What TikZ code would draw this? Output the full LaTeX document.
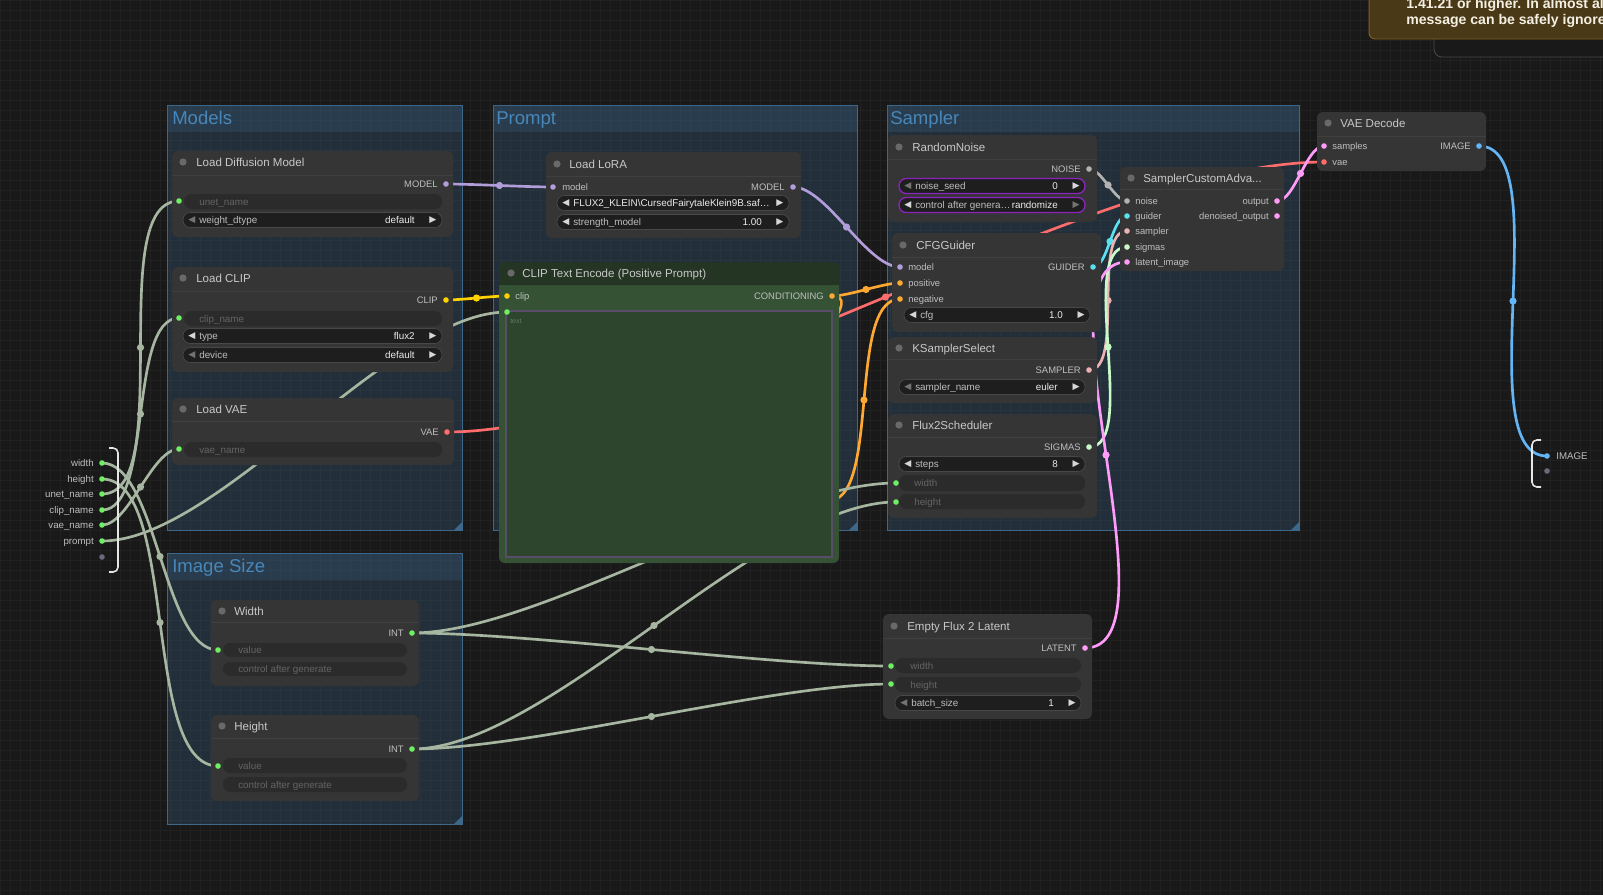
\documentclass[tikz,border=0pt]{standalone}
\usepackage{fontspec}
\setmainfont{Liberation Sans}
\newfontfamily\symf{DejaVu Sans}
\usetikzlibrary{fit}

\definecolor{bgc}{RGB}{25,25,25}
\definecolor{gridc}{RGB}{33,33,33}
\definecolor{grpfill}{RGB}{58,100,135}
\definecolor{grpline}{RGB}{62,104,138}
\definecolor{grptext}{RGB}{72,135,185}
\definecolor{nodebg}{RGB}{53,53,53}
\definecolor{sepc}{RGB}{64,64,64}
\definecolor{tdotc}{RGB}{105,105,105}
\definecolor{titletxt}{RGB}{200,200,200}
\definecolor{slottxt}{RGB}{190,190,190}
\definecolor{wgtbg}{RGB}{30,30,30}
\definecolor{wgtline}{RGB}{72,72,72}
\definecolor{wgtoffbg}{RGB}{43,43,43}
\definecolor{wlabc}{RGB}{190,190,190}
\definecolor{wvalc}{RGB}{235,235,235}
\definecolor{woffc}{RGB}{100,100,100}
\definecolor{arrlo}{RGB}{115,115,115}
\definecolor{arrhi}{RGB}{215,215,215}
\definecolor{seedline}{RGB}{140,35,190}
\definecolor{ctetitle}{RGB}{36,53,36}
\definecolor{ctebody}{RGB}{53,82,53}
\definecolor{ctetext}{RGB}{45,68,45}
\definecolor{ctetextline}{RGB}{88,78,106}
\definecolor{ctehint}{RGB}{105,120,105}
\definecolor{modelc}{RGB}{178,157,219}
\definecolor{clipc}{RGB}{255,210,0}
\definecolor{vaec}{RGB}{255,108,108}
\definecolor{condc}{RGB}{255,168,50}
\definecolor{noisec}{RGB}{178,178,178}
\definecolor{guiderc}{RGB}{90,225,240}
\definecolor{samplerc}{RGB}{236,178,178}
\definecolor{sigmasc}{RGB}{200,250,200}
\definecolor{latentc}{RGB}{255,156,249}
\definecolor{imagec}{RGB}{100,181,246}
\definecolor{intc}{RGB}{166,182,160}
\definecolor{intdot}{RGB}{110,240,100}
\definecolor{emptydot}{RGB}{105,105,125}
\definecolor{brkc}{RGB}{230,230,230}
\definecolor{toastbg}{RGB}{74,57,22}
\definecolor{toastline}{RGB}{125,96,36}
\definecolor{toasttxt}{RGB}{245,240,228}
\definecolor{backbox}{RGB}{72,72,72}

\pgfdeclarelayer{groups}
\pgfdeclarelayer{links}
\pgfsetlayers{groups,links,main}

\begin{document}
\begin{tikzpicture}[x=0.025cm, y=-0.025cm]
    \tikzstyle{grp} = [draw=grpline, line width=0.6pt, fill=grpfill, fill opacity=0.3, inner sep=0pt]
    \tikzstyle{grphead} = [fill=grpfill, fill opacity=0.25]
    \tikzstyle{grptitle} = [text=grptext, font=\fontsize{13.2}{15}\selectfont, anchor=mid west, inner sep=0pt]
    \tikzstyle{grpcorner} = [fill=grpline]
    \tikzstyle{cnode} = [fill=nodebg, rounded corners=0.15cm, inner sep=0pt]
    \tikzstyle{sepline} = [draw=sepc, line width=0.5pt]
    \tikzstyle{tdot} = [circle, fill=tdotc, minimum size=0.18cm, inner sep=0pt]
    \tikzstyle{ntitle} = [text=titletxt, font=\fontsize{8.2}{10}\selectfont, anchor=mid west, inner sep=0pt]
    \tikzstyle{slot} = [circle, minimum size=0.14cm, inner sep=0pt]
    \tikzstyle{lblin} = [text=slottxt, font=\fontsize{6.7}{8}\selectfont, anchor=mid west, inner sep=0pt]
    \tikzstyle{lblout} = [text=slottxt, font=\fontsize{6.7}{8}\selectfont, anchor=mid east, inner sep=0pt]
    \tikzstyle{wgt} = [fill=wgtbg, draw=wgtline, line width=0.5pt, rounded corners=0.18cm, inner sep=0pt]
    \tikzstyle{wgtoff} = [fill=wgtoffbg, rounded corners=0.18cm, inner sep=0pt]
    \tikzstyle{wlab} = [text=wlabc, font=\fontsize{7}{8}\selectfont, anchor=mid west, inner sep=0pt]
    \tikzstyle{wval} = [text=wvalc, font=\fontsize{7}{8}\selectfont, anchor=mid east, inner sep=0pt]
    \tikzstyle{woff} = [text=woffc, font=\fontsize{7}{8}\selectfont, anchor=mid west, inner sep=0pt]
    \tikzstyle{warr} = [font=\symf\fontsize{6.5}{7}\selectfont, inner sep=0pt]
    \tikzstyle{link} = [line width=1.9pt, out=0, in=180, looseness=0.6386]
    \tikzstyle{middot} = [circle, minimum size=0.18cm, inner sep=0pt]
    \tikzstyle{sglbl} = [text=slottxt, font=\fontsize{6.9}{8}\selectfont, anchor=mid east, inner sep=0pt]
    \tikzstyle{brk} = [draw=brkc, line width=1.1pt, rounded corners=0.12cm]
    \tikzstyle{toasttext} = [text=toasttxt, font=\bfseries\fontsize{10}{12}\selectfont, anchor=mid west, inner sep=0pt]

    \useasboundingbox (0,0) rectangle (1603,895);

    \begin{pgfonlayer}{groups}
    \fill [bgc] (0,0) rectangle (1603,895);
    \draw [gridc, line width=0.4pt] (0,0) grid [step=0.25cm] (1603,895);

    \node (gmodels) [grp, fit={(167,105) (462,530)}] {};
    \fill [grphead] (167,105) rectangle (462,132);
    \node (gmodels-t) [grptitle] at (172,121) {Models};
    \fill [grpcorner] (462,530) -- (454,530) -- (462,522) -- cycle;

    \node (gprompt) [grp, fit={(493,105) (857,530)}] {};
    \fill [grphead] (493,105) rectangle (857,132);
    \node (gprompt-t) [grptitle] at (496,121) {Prompt};
    \fill [grpcorner] (857,530) -- (849,530) -- (857,522) -- cycle;

    \node (gsampler) [grp, fit={(887,105) (1299,530)}] {};
    \fill [grphead] (887,105) rectangle (1299,132);
    \node (gsampler-t) [grptitle] at (890,121) {Sampler};
    \fill [grpcorner] (1299,530) -- (1291,530) -- (1299,522) -- cycle;

    \node (gsize) [grp, fit={(167,553) (462,824)}] {};
    \fill [grphead] (167,553) rectangle (462,580);
    \node (gsize-t) [grptitle] at (172,569) {Image Size};
    \fill [grpcorner] (462,824) -- (454,824) -- (462,816) -- cycle;
    \end{pgfonlayer}

    \node (ldm) [cnode, fit={(172,151) (453,237)}] {};
    \draw [sepline] (172,175) -- (453,175);
    \node (ldm-c) [tdot] at (183,162) {};
    \node (ldm-t) [ntitle] at (196,163) {Load Diffusion Model};
    \node (ldmo) [slot, fill=modelc] at (446,184) {};
    \node (ldmo-l) [lblout] at (438,184) {MODEL};
    \node (ldmu) [slot, fill=intdot] at (179,201) {};

    \node (lclip) [cnode, fit={(172,267) (453,372)}] {};
    \draw [sepline] (172,291) -- (453,291);
    \node (lclip-c) [tdot] at (183,278) {};
    \node (lclip-t) [ntitle] at (196,279) {Load CLIP};
    \node (clipo) [slot, fill=clipc] at (446,300) {};
    \node (clipo-l) [lblout] at (438,300) {CLIP};
    \node (clipn) [slot, fill=intdot] at (179,318) {};

    \node (lvae) [cnode, fit={(172,398) (454,465)}] {};
    \draw [sepline] (172,421) -- (454,421);
    \node (lvae-c) [tdot] at (183,409) {};
    \node (lvae-t) [ntitle] at (196,410) {Load VAE};
    \node (vaeo) [slot, fill=vaec] at (447,432) {};
    \node (vaeo-l) [lblout] at (439,432) {VAE};
    \node (vaen) [slot, fill=intdot] at (179,449) {};

    \node (lora) [cnode, fit={(546,152) (801,238)}] {};
    \draw [sepline] (546,176) -- (801,176);
    \node (lora-c) [tdot] at (557,164) {};
    \node (lora-t) [ntitle] at (569,165) {Load LoRA};
    \node (lorai) [slot, fill=modelc] at (553,187) {};
    \node (lorai-l) [lblin] at (562,187) {model};
    \node (lorao) [slot, fill=modelc] at (793,187) {};
    \node (lorao-l) [lblout] at (785,187) {MODEL};
    \node (lora-w) [wgt, fit={(557,195.5) (789,210.5)}] {};
    \node (lora-wa) [warr, text=arrhi] at (566,203) {◀};
    \node (lora-wl) [wval, anchor=mid west] at (573,203) {FLUX2\_KLEIN\textbackslash CursedFairytaleKlein9B.saf…};
    \node (lora-wb) [warr, text=arrhi] at (780,203) {▶};

    \node (cte) [cnode, fill=ctebody, fit={(499,262) (839,563)}] {};
    \fill [ctetitle, rounded corners=0.15cm] (499,262) rectangle (839,285);
    \fill [ctetitle] (499,277) rectangle (839,285);
    \node (cte-c) [tdot] at (511,273) {};
    \node (cte-t) [ntitle] at (522,274) {CLIP Text Encode (Positive Prompt)};
    \node (ctec) [slot, fill=clipc] at (507,296) {};
    \node (ctec-l) [lblin] at (515,296) {clip};
    \node (cteo) [slot, fill=condc] at (832,296) {};
    \node (cteo-l) [lblout] at (824,296) {CONDITIONING};
    \node (cte-box) [fill=ctetext, draw=ctetextline, line width=0.8pt, inner sep=0pt, fit={(506,311) (832,557)}] {};
    \node (ctet) [slot, fill=intdot] at (507,312) {};
    \node (ctet-l) [text=ctehint, font=\fontsize{5}{6}\selectfont, anchor=mid west, inner sep=0pt] at (510,320) {text};

    \node (rn) [cnode, fit={(888,135) (1097,222)}] {};
    \draw [sepline] (888,159) -- (1097,159);
    \node (rn-c) [tdot] at (899,147) {};
    \node (rn-t) [ntitle] at (912,148) {RandomNoise};
    \node (rno) [slot, fill=noisec] at (1089,169) {};
    \node (rno-l) [lblout] at (1081,169) {NOISE};

    \node (cfg) [cnode, fit={(892,233) (1101,332)}] {};
    \draw [sepline] (892,257) -- (1101,257);
    \node (cfg-c) [tdot] at (903,245) {};
    \node (cfg-t) [ntitle] at (916,246) {CFGGuider};
    \node (cfgm) [slot, fill=modelc] at (900,267) {};
    \node (cfgm-l) [lblin] at (908,267) {model};
    \node (cfgp) [slot, fill=condc] at (900,283) {};
    \node (cfgp-l) [lblin] at (908,283) {positive};
    \node (cfgn) [slot, fill=condc] at (900,299) {};
    \node (cfgn-l) [lblin] at (908,299) {negative};
    \node (cfgo) [slot, fill=guiderc] at (1093,267) {};
    \node (cfgo-l) [lblout] at (1085,267) {GUIDER};

    \node (kss) [cnode, fit={(888,337) (1097,403)}] {};
    \draw [sepline] (888,359) -- (1097,359);
    \node (kss-c) [tdot] at (899,348) {};
    \node (kss-t) [ntitle] at (912,349) {KSamplerSelect};
    \node (ksso) [slot, fill=samplerc] at (1089,370) {};
    \node (ksso-l) [lblout] at (1081,370) {SAMPLER};

    \node (fs) [cnode, fit={(888,414) (1097,518)}] {};
    \draw [sepline] (888,437) -- (1097,437);
    \node (fs-c) [tdot] at (899,425) {};
    \node (fs-t) [ntitle] at (912,426) {Flux2Scheduler};
    \node (fso) [slot, fill=sigmasc] at (1089,447) {};
    \node (fso-l) [lblout] at (1081,447) {SIGMAS};
    \node (fsw) [slot, fill=intdot] at (896,483) {};
    \node (fsh) [slot, fill=intdot] at (896,502) {};

    \node (sca) [cnode, fit={(1120,167) (1284,271)}] {};
    \draw [sepline] (1120,189) -- (1284,189);
    \node (sca-c) [tdot] at (1131,178) {};
    \node (sca-t) [ntitle] at (1143,179) {SamplerCustomAdva...};
    \node (scan) [slot, fill=noisec] at (1127,201) {};
    \node (scan-l) [lblin] at (1135,201) {noise};
    \node (scag) [slot, fill=guiderc] at (1127,216) {};
    \node (scag-l) [lblin] at (1135,216) {guider};
    \node (scas) [slot, fill=samplerc] at (1127,231) {};
    \node (scas-l) [lblin] at (1135,231) {sampler};
    \node (scasg) [slot, fill=sigmasc] at (1127,247) {};
    \node (scasg-l) [lblin] at (1135,247) {sigmas};
    \node (scal) [slot, fill=latentc] at (1127,262) {};
    \node (scal-l) [lblin] at (1135,262) {latent\_image};
    \node (scao) [slot, fill=latentc] at (1277,201) {};
    \node (scao-l) [lblout] at (1269,201) {output};
    \node (scad) [slot, fill=latentc] at (1277,216) {};
    \node (scad-l) [lblout] at (1269,216) {denoised\_output};

    \node (vd) [cnode, fit={(1317,112) (1486,171)}] {};
    \draw [sepline] (1317,136) -- (1486,136);
    \node (vd-c) [tdot] at (1328,123) {};
    \node (vd-t) [ntitle] at (1340,124) {VAE Decode};
    \node (vds) [slot, fill=latentc] at (1324,146) {};
    \node (vds-l) [lblin] at (1332,146) {samples};
    \node (vdv) [slot, fill=vaec] at (1324,162) {};
    \node (vdv-l) [lblin] at (1332,162) {vae};
    \node (vdo) [slot, fill=imagec] at (1479,146) {};
    \node (vdo-l) [lblout] at (1471,146) {IMAGE};

    \node (wd) [cnode, fit={(211,600) (419,686)}] {};
    \draw [sepline] (211,622) -- (419,622);
    \node (wd-c) [tdot] at (222,611) {};
    \node (wd-t) [ntitle] at (234,612) {Width};
    \node (wdo) [slot, fill=intdot] at (412,633) {};
    \node (wdo-l) [lblout] at (404,633) {INT};
    \node (wdv) [slot, fill=intdot] at (218,650) {};

    \node (ht) [cnode, fit={(211,715) (419,801)}] {};
    \draw [sepline] (211,738) -- (419,738);
    \node (ht-c) [tdot] at (222,726) {};
    \node (ht-t) [ntitle] at (234,727) {Height};
    \node (hto) [slot, fill=intdot] at (412,749) {};
    \node (hto-l) [lblout] at (404,749) {INT};
    \node (htv) [slot, fill=intdot] at (218,766) {};

    \node (el) [cnode, fit={(883,614) (1092,719)}] {};
    \draw [sepline] (883,638) -- (1092,638);
    \node (el-c) [tdot] at (894,626) {};
    \node (el-t) [ntitle] at (907,627) {Empty Flux 2 Latent};
    \node (elo) [slot, fill=latentc] at (1085,648) {};
    \node (elo-l) [lblout] at (1077,648) {LATENT};
    \node (elw) [slot, fill=intdot] at (891,666) {};
    \node (elh) [slot, fill=intdot] at (891,684) {};

    \foreach \xa/\xb/\y/\lab/\val/\la/\ra [count=\i] in {
        183/442/220/weight\_dtype/default/arrlo/arrhi,
        183/442/336/type/flux2/arrhi/arrhi,
        183/442/355/device/default/arrlo/arrhi,
        557/789/222/strength\_model/1.00/arrhi/arrhi,
        899/1085/186/noise\_seed/0/arrlo/arrhi,
        899/1085/205/control after genera…/randomize/arrhi/arrlo,
        904/1090/315/cfg/1.0/arrhi/arrhi,
        899/1085/387/sampler\_name/euler/arrlo/arrhi,
        899/1085/464/steps/8/arrhi/arrhi,
        895/1081/703/batch\_size/1/arrlo/arrhi} {
        \node (w\i) [wgt, fit={(\xa,\y-7.5) (\xb,\y+7.5)}] {};
        \node (w\i-a) [warr, text=\la] at (\xa+9,\y) {◀};
        \node (w\i-l) [wlab] at (\xa+16,\y) {\lab};
        \node (w\i-v) [wval] at (\xb-27,\y) {\val};
        \node (w\i-b) [warr, text=\ra] at (\xb-9,\y) {▶};
    }
    \draw [seedline, line width=0.9pt, rounded corners=0.18cm] (899,178.5) rectangle (1085,193.5);
    \draw [seedline, line width=0.9pt, rounded corners=0.18cm] (899,197.5) rectangle (1085,212.5);

    \foreach \xa/\xb/\ya/\yb/\lab [count=\i] in {
        184/442/194/209/unet\_name,
        184/442/311/326/clip\_name,
        184/442/442/457/vae\_name,
        223/407/643/657/value,
        223/407/662/676/control after generate,
        223/407/758/773/value,
        223/407/777/792/control after generate,
        899/1085/475/491/width,
        899/1085/494/509/height,
        895/1081/658/673/width,
        895/1081/677/692/height} {
        \node (d\i) [wgtoff, fit={(\xa,\ya) (\xb,\yb)}] {};
        \node (d\i-l) [woff] at (\xa+15,{(\ya+\yb)/2}) {\lab};
    }

    \node (sgw) [slot, fill=intdot] at (102,463) {};
    \node (sgw-l) [sglbl] at (94,463) {width};
    \node (sgh) [slot, fill=intdot] at (102,479) {};
    \node (sgh-l) [sglbl] at (94,479) {height};
    \node (sgu) [slot, fill=intdot] at (102,494) {};
    \node (sgu-l) [sglbl] at (94,494) {unet\_name};
    \node (sgc) [slot, fill=intdot] at (102,510) {};
    \node (sgc-l) [sglbl] at (94,510) {clip\_name};
    \node (sgv) [slot, fill=intdot] at (102,525) {};
    \node (sgv-l) [sglbl] at (94,525) {vae\_name};
    \node (sgp) [slot, fill=intdot] at (102,541) {};
    \node (sgp-l) [sglbl] at (94,541) {prompt};
    \node (sge) [slot, fill=emptydot] at (102,557) {};
    \draw [brk] (109,448) -- (118,448) -- (118,572) -- (109,572);

    \node (sgoi) [slot, fill=imagec] at (1547,456) {};
    \node (sgoi-l) [sglbl, anchor=mid west] at (1556,456) {IMAGE};
    \node (sgoe) [slot, fill=emptydot] at (1547,471) {};
    \draw [brk] (1541,440) -- (1532,440) -- (1532,487) -- (1541,487);

    \coordinate (zeroin) at (700,501);
    \coordinate (zeroout) at (828,501);

    \begin{pgfonlayer}{links}
    \draw [link, modelc] (ldmo.center) to node [middot, fill=modelc] (m1) {} (lorai.center);
    \draw [link, modelc] (lorao.center) to node [middot, fill=modelc] (m2) {} (cfgm.center);
    \draw [link, clipc] (clipo.center) to node [middot, fill=clipc] (m3) {} (ctec.center);
    \draw [link, vaec] (vaeo.center) to node [middot, fill=vaec] (m4) {} (vdv.center);
    \draw [link, condc] (cteo.center) to node [middot, fill=condc] (m5) {} (cfgp.center);
    \draw [link, condc] (cteo.center) to (zeroin);
    \draw [link, condc] (zeroout) to node [middot, fill=condc] (m6) {} (cfgn.center);
    \draw [link, noisec] (rno.center) to node [middot, fill=noisec] (m7) {} (scan.center);
    \draw [link, guiderc] (cfgo.center) to node [middot, fill=guiderc] (m8) {} (scag.center);
    \draw [link, samplerc] (ksso.center) to node [middot, fill=samplerc] (m9) {} (scas.center);
    \draw [link, sigmasc] (fso.center) to node [middot, fill=sigmasc] (m10) {} (scasg.center);
    \draw [link, latentc] (elo.center) to node [middot, fill=latentc] (m11) {} (scal.center);
    \draw [link, latentc] (scao.center) to node [middot, fill=latentc] (m12) {} (vds.center);
    \draw [link, imagec] (vdo.center) to node [middot, fill=imagec] (m13) {} (sgoi.center);
    \draw [link, intc] (sgw.center) to node [middot, fill=intc] (m14) {} (wdv.center);
    \draw [link, intc] (sgh.center) to node [middot, fill=intc] (m15) {} (htv.center);
    \draw [link, intc] (sgu.center) to node [middot, fill=intc] (m16) {} (ldmu.center);
    \draw [link, intc] (sgc.center) to node [middot, fill=intc] (m17) {} (clipn.center);
    \draw [link, intc] (sgv.center) to node [middot, fill=intc] (m18) {} (vaen.center);
    \draw [link, intc] (sgp.center) to node [middot, fill=intc] (m19) {} (ctet.center);
    \draw [link, intc] (wdo.center) to node [middot, fill=intc] (m20) {} (fsw.center);
    \draw [link, intc] (wdo.center) to node [middot, fill=intc] (m21) {} (elw.center);
    \draw [link, intc] (hto.center) to node [middot, fill=intc] (m22) {} (fsh.center);
    \draw [link, intc] (hto.center) to node [middot, fill=intc] (m23) {} (elh.center);
    \end{pgfonlayer}

    \begin{scope}
    \clip (0,0) rectangle (1603,895);
    \node (notice-back) [fill=bgc, draw=backbox, line width=0.6pt, rounded corners=0.2cm, inner sep=0pt, fit={(1434,0) (1650,57)}] {};
    \node (notice) [fill=toastbg, draw=toastline, line width=0.7pt, rounded corners=0.15cm, inner sep=0pt, fit={(1369,-20) (1650,39)}] {};
    \node (notice-1) [toasttext] at (1406,5) {1.41.21 or higher. In almost all};
    \node (notice-2) [toasttext] at (1406,21) {message can be safely ignore};
    \end{scope}
\end{tikzpicture}
\end{document}
